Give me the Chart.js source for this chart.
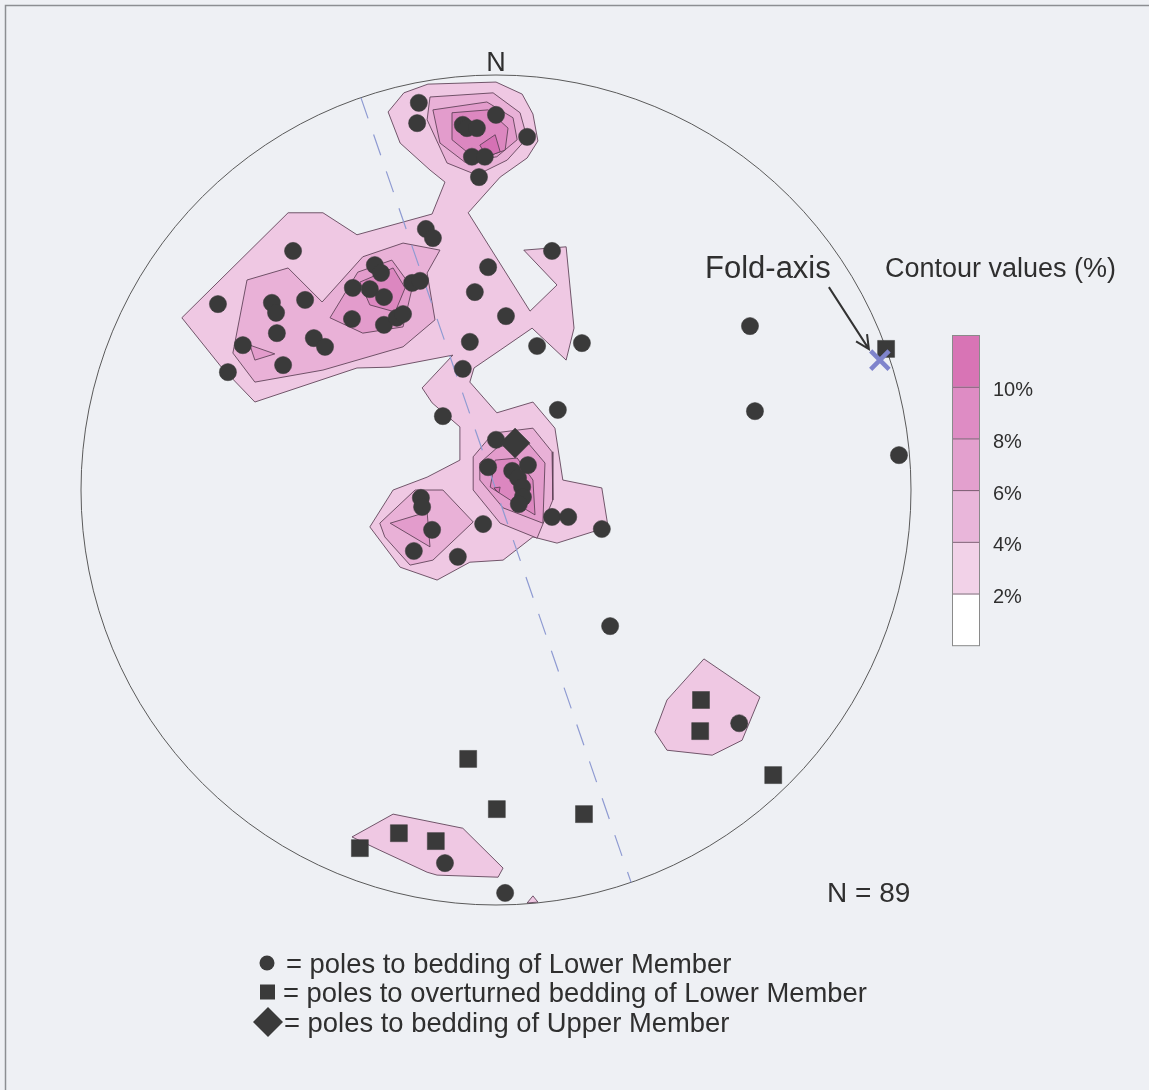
<!DOCTYPE html>
<html>
<head>
<meta charset="utf-8">
<script src="https://cdn.jsdelivr.net/npm/chart.js@4/dist/chart.umd.min.js"></script>
<style>
  html, body { margin: 0; padding: 0; background: #eef0f4; overflow: hidden; }
  canvas { display: block; }
</style>
</head>
<body>
<canvas id="net" width="1149" height="1090"></canvas>
<script>
// Equal-area net in plan view: centre (0,0), primitive circle radius 100, north up.
const NET_RADIUS = 100;
const SAMPLE_COUNT = 89;

// Poles to bedding, Lower Member (x = east, y = north)
const lowerMemberPoles = [
  [-18.6, 93.3], [-19.0, 88.4], [-8.0, 88.0], [-7.0, 87.2], [-4.6, 87.2], [0, 90.4], [7.5, 85.1],
  [-5.8, 80.3], [-2.7, 80.3], [-4.1, 75.4],
  [-48.9, 57.6], [-67.0, 44.8], [-54.0, 45.1], [-53.0, 42.7], [-46.0, 45.8], [-52.8, 37.8],
  [-61.0, 34.9], [-51.3, 30.1], [-64.6, 28.4], [-43.9, 36.6], [-41.2, 34.5],
  [-29.2, 54.2], [-27.7, 52.3], [-34.5, 48.7], [-30.4, 48.4], [-27.0, 46.5], [-34.7, 41.2],
  [-27.0, 39.8], [-23.9, 41.5], [-22.4, 42.4], [-20.2, 49.9], [-18.3, 50.4], [-16.9, 62.9], [-15.2, 60.7],
  [13.5, 57.6], [-1.9, 53.7], [-5.1, 47.7], [2.4, 41.9], [9.9, 34.7], [20.7, 35.4], [-6.3, 35.7],
  [-8.0, 29.2], [-12.8, 17.8], [14.9, 19.3],
  [0, 12.1], [-1.9, 5.5], [3.9, 4.6], [7.7, 6.0], [5.3, 2.9], [6.3, 0.7], [6.5, -1.7], [5.5, -3.4],
  [-18.1, -1.9], [-17.8, -4.1], [-15.4, -9.6], [-19.8, -14.7], [-9.2, -16.1], [-3.1, -8.2],
  [13.5, -6.5], [17.4, -6.5], [25.5, -9.4],
  [61.2, 39.5], [62.4, 19.0], [97.1, 8.4], [27.5, -32.8], [58.6, -56.2], [-12.3, -89.9], [2.2, -97.1]
];

// Poles to overturned bedding, Lower Member
const overturnedPoles = [
  [94.0, 34.0], [49.4, -50.6], [49.2, -58.1], [66.8, -68.7], [-6.7, -64.8],
  [0.2, -76.9], [21.2, -78.1], [-23.4, -82.7], [-14.5, -84.6], [-32.8, -86.3]
];

// Poles to bedding, Upper Member
const upperMemberPoles = [[4.6, 11.3]];

// Computed fold axis
const foldAxis = [[92.5, 31.3]];

// Trend of the dashed vertical plane through the centre (degrees)
const axialPlaneTrend = 341;

// Density contours (polygons), by level
const contour2Main = [
  [-22.2, 95.7], [-16.4, 97.8], [0, 98.3], [6.3, 95.4], [8.9, 90.6], [10.1, 84.1], [7.5, 80.0],
  [1.0, 75.4], [-6.7, 66.8], [8.2, 43.1], [14.7, 49.4], [6.7, 57.8], [16.9, 58.6], [18.8, 39.0],
  [16.9, 31.3], [8.7, 39.0], [1.0, 33.7], [-5.3, 29.4], [-6.3, 26.0], [0.2, 18.6], [8.9, 21.2],
  [14.2, 14.9], [16.1, 2.4], [25.5, 0.5], [27.0, -8.9], [14.7, -12.8], [8.9, -11.3], [1.7, -16.9],
  [-6.3, -17.4], [-14.2, -21.7], [-23.1, -18.6], [-30.4, -8.9], [-24.8, 0], [-16.6, 3.1],
  [-8.7, 7.2], [-8.7, 15.2], [-15.4, 21.0], [-17.8, 24.6], [-10.4, 32.5], [-25.5, 29.6],
  [-33.5, 29.4], [-58.1, 21.2], [-66.0, 29.4], [-75.7, 41.5], [-50.1, 66.8], [-41.7, 66.8],
  [-33.5, 61.5], [-15.4, 66.5], [-12.3, 74.2], [-15.9, 77.1], [-23.1, 83.6], [-26.0, 91.1]
];
const contour2SouthEast = [[50.1, -40.7], [63.6, -49.9], [59.3, -60.3], [52.1, -63.9], [41.2, -62.7], [38.3, -58.3], [41.2, -50.6]];
const contour2South = [[-34.7, -83.6], [-24.8, -78.1], [-8.0, -81.5], [1.7, -91.1], [0.5, -93.3], [-14.2, -92.8], [-16.6, -92.1], [-28.0, -86.8]];
const contour2Rim = [[7.5, -99.5], [8.9, -97.8], [10.1, -99.3]];

const contour4North = [[-15.9, 94.7], [-0.7, 95.7], [5.8, 90.9], [7.5, 84.8], [2.7, 79.5], [-4.6, 75.9], [-11.8, 78.8], [-16.6, 89.2]];
const contour4West = [[-60.0, 50.6], [-50.1, 53.5], [-41.9, 45.3], [-32.1, 56.2], [-22.4, 59.5], [-13.5, 57.8], [-16.6, 52.3], [-14.7, 41.0], [-22.4, 34.5], [-41.7, 28.9], [-58.1, 26.0], [-63.4, 33.0]];
const contour4Centre = [[-5.5, 8.0], [-0.7, 13.7], [8.9, 14.9], [13.5, 9.2], [13.7, -2.4], [9.9, -11.6], [1.0, -8.0], [-5.5, 0]];
const contour4CentreWest = [[-28.0, -8.0], [-19.5, 0], [-12.8, 0], [-5.5, -7.7], [-15.2, -16.9], [-20.7, -18.1], [-26.8, -11.3]];

const contour6North = [[-15.2, 91.6], [-2.2, 93.5], [4.1, 89.7], [5.1, 84.4], [0.2, 80.3], [-7.5, 79.0], [-13.5, 83.6]];
const contour6West = [[-40.0, 41.5], [-33.3, 52.5], [-25.1, 55.4], [-20.2, 48.7], [-22.4, 39.3], [-32.1, 37.8]];
const contour6FarWest = [[-59.3, 34.9], [-58.1, 31.3], [-53.3, 32.8]];
const contour6Centre = [[-3.9, 6.5], [0.5, 10.4], [7.5, 11.6], [11.8, 6.5], [11.3, -8.0], [1.7, -4.3], [-3.9, 2.4]];
const contour6CentreWest = [[-25.5, -8.0], [-16.6, -5.3], [-15.9, -13.7]];

const contour8North = [[-10.6, 90.9], [-1.9, 91.6], [2.9, 87.2], [2.2, 81.9], [-4.6, 79.5], [-10.6, 84.4]];
const contour8West = [[-32.8, 50.1], [-24.8, 53.5], [-21.9, 48.7], [-24.3, 42.9], [-30.4, 44.6]];
const contour8Centre = [[-0.2, 7.2], [5.1, 7.7], [8.9, 2.4], [9.4, -6.0], [3.4, -2.4], [-1.4, 0.7]];

const contour10North = [[-3.9, 83.1], [-0.2, 85.6], [1.0, 81.5], [-2.2, 80.3]];
const contour10Centre = [[-0.5, 0.5], [1.0, 0.7], [0.7, -0.7]];

// Contour key
const contourLabels = ['10%', '8%', '6%', '4%', '2%'];
const levelColors = { 2: '#efc8e3', 4: '#e9b1d7', 6: '#e39ccc', 8: '#dc87c0', 10: '#d571b4' };
const keyColors = ['#d874b5', '#de8cc4', '#e3a0ce', '#e9b6da', '#f2d2e8', '#ffffff'];

const contourSets = [
  [2, [contour2Main, contour2SouthEast, contour2South, contour2Rim]],
  [4, [contour4North, contour4West, contour4Centre, contour4CentreWest]],
  [6, [contour6North, contour6West, contour6FarWest, contour6Centre, contour6CentreWest]],
  [8, [contour8North, contour8West, contour8Centre]],
  [10, [contour10North, contour10Centre]]
];

const toXY = arr => arr.map(([x, y]) => ({ x, y }));
const closed = arr => toXY(arr.concat([arr[0]]));

const datasets = [];
contourSets.forEach(([level, polys]) => {
  polys.forEach(poly => {
    datasets.push({
      label: 'contour ' + level + '%',
      data: closed(poly),
      showLine: true,
      fill: 'shape',
      backgroundColor: levelColors[level],
      borderColor: 'rgba(90,62,84,0.85)',
      borderWidth: 1,
      pointRadius: 0,
      tension: 0,
      order: 40 - level
    });
  });
});

const t = axialPlaneTrend * Math.PI / 180;
datasets.push({
  label: 'plane',
  data: [
    { x: NET_RADIUS * Math.sin(t), y: NET_RADIUS * Math.cos(t) },
    { x: -NET_RADIUS * Math.sin(t), y: -NET_RADIUS * Math.cos(t) }
  ],
  showLine: true,
  fill: false,
  borderColor: '#8f9bd2',
  borderWidth: 1.2,
  borderDash: [22, 17],
  pointRadius: 0,
  order: 10
});

const markColor = '#3a3a3a';
datasets.push({
  label: 'poles to bedding of Lower Member',
  data: toXY(lowerMemberPoles),
  pointStyle: 'circle', pointRadius: 8.6,
  backgroundColor: markColor, borderColor: markColor, borderWidth: 0.5,
  order: 3
});
datasets.push({
  label: 'poles to overturned bedding of Lower Member',
  data: toXY(overturnedPoles),
  pointStyle: 'rect', pointRadius: 12,
  backgroundColor: markColor, borderColor: markColor, borderWidth: 0.5,
  order: 2
});
datasets.push({
  label: 'poles to bedding of Upper Member',
  data: toXY(upperMemberPoles),
  pointStyle: 'rectRot', pointRadius: 15,
  backgroundColor: markColor, borderColor: markColor, borderWidth: 0.5,
  order: 1
});
datasets.push({
  label: 'Fold-axis',
  data: toXY(foldAxis),
  pointStyle: 'crossRot', pointRadius: 13,
  backgroundColor: '#7f84cc', borderColor: '#7f84cc', borderWidth: 4.5,
  order: 0
});

const FONT = '"Liberation Sans", Arial, Helvetica, sans-serif';
const TEXT = '#2f2f2f';

const stereonetDecor = {
  id: 'stereonetDecor',
  beforeDraw(chart) {
    const ctx = chart.ctx;
    ctx.save();
    ctx.fillStyle = '#eef0f4';
    ctx.fillRect(0, 0, chart.width, chart.height);
    ctx.strokeStyle = '#8c8e92';
    ctx.lineWidth = 1.5;
    ctx.beginPath();
    ctx.moveTo(5.5, chart.height);
    ctx.lineTo(5.5, 5.5);
    ctx.lineTo(chart.width, 5.5);
    ctx.stroke();
    ctx.restore();
  },
  beforeDatasetsDraw(chart) {
    const { ctx, scales: { x, y } } = chart;
    const cx = x.getPixelForValue(0), cy = y.getPixelForValue(0);
    const r = x.getPixelForValue(NET_RADIUS) - cx;
    ctx.save();
    ctx.strokeStyle = '#5a5a5a';
    ctx.lineWidth = 1;
    ctx.beginPath();
    ctx.arc(cx, cy, r, 0, Math.PI * 2);
    ctx.stroke();
    ctx.restore();
  },
  afterDatasetsDraw(chart) {
    const { ctx, scales: { x, y } } = chart;
    const cx = x.getPixelForValue(0), cy = y.getPixelForValue(0);
    const r = x.getPixelForValue(NET_RADIUS) - cx;
    ctx.save();
    ctx.fillStyle = TEXT;
    ctx.textBaseline = 'alphabetic';

    // North mark
    ctx.font = '27px ' + FONT;
    ctx.textAlign = 'center';
    ctx.fillText('N', cx, cy - r - 4);

    // Sample count
    ctx.textAlign = 'left';
    ctx.font = '28px ' + FONT;
    ctx.fillText('N = ' + SAMPLE_COUNT, 827, 902);

    // Fold-axis label and arrow
    const fx = x.getPixelForValue(foldAxis[0][0]);
    const fy = y.getPixelForValue(foldAxis[0][1]);
    ctx.font = '31px ' + FONT;
    ctx.fillText('Fold-axis', 705, 278);
    ctx.strokeStyle = '#333';
    ctx.lineWidth = 2;
    const ax0 = fx - 51, ay0 = fy - 73, ax1 = fx - 11, ay1 = fy - 11;
    ctx.beginPath();
    ctx.moveTo(ax0, ay0);
    ctx.lineTo(ax1, ay1);
    const ang = Math.atan2(ay1 - ay0, ax1 - ax0);
    const hl = 15, spread = 0.45;
    ctx.moveTo(ax1 - hl * Math.cos(ang - spread), ay1 - hl * Math.sin(ang - spread));
    ctx.lineTo(ax1, ay1);
    ctx.lineTo(ax1 - hl * Math.cos(ang + spread), ay1 - hl * Math.sin(ang + spread));
    ctx.stroke();

    // Contour key
    ctx.font = '27px ' + FONT;
    ctx.fillText('Contour values (%)', 885, 277);
    const kx = 952, ky = 335, kw = 27, kh = 51.7;
    keyColors.forEach((c, i) => {
      ctx.fillStyle = c;
      ctx.fillRect(kx, ky + i * kh, kw, kh);
    });
    ctx.strokeStyle = '#7a5a70';
    ctx.lineWidth = 1;
    for (let i = 1; i < keyColors.length; i++) {
      ctx.beginPath();
      ctx.moveTo(kx, ky + i * kh + 0.5);
      ctx.lineTo(kx + kw, ky + i * kh + 0.5);
      ctx.stroke();
    }
    ctx.strokeStyle = '#8a8a8a';
    ctx.strokeRect(kx + 0.5, ky + 0.5, kw, keyColors.length * kh);
    ctx.fillStyle = TEXT;
    ctx.font = '20px ' + FONT;
    ctx.textBaseline = 'middle';
    contourLabels.forEach((lab, i) => {
      ctx.fillText(lab, 993, ky + (i + 1) * kh + 4);
    });

    // Symbol legend
    ctx.textBaseline = 'alphabetic';
    ctx.font = '27.4px ' + FONT;
    const rows = [
      ['circle', 963, '= poles to bedding of Lower Member', 286],
      ['square', 992, '= poles to overturned bedding of Lower Member', 283],
      ['diamond', 1022, '= poles to bedding of Upper Member', 284]
    ];
    rows.forEach(([shape, yy, label, tx]) => {
      ctx.fillStyle = markColor;
      ctx.beginPath();
      if (shape === 'circle') {
        ctx.arc(267, yy, 7.5, 0, Math.PI * 2);
      } else if (shape === 'square') {
        ctx.rect(260, yy - 7.5, 15, 15);
      } else {
        ctx.moveTo(268, yy - 15);
        ctx.lineTo(283, yy);
        ctx.lineTo(268, yy + 15);
        ctx.lineTo(253, yy);
        ctx.closePath();
      }
      ctx.fill();
      ctx.fillStyle = TEXT;
      ctx.fillText(label, tx, yy + 9.5);
    });
    ctx.restore();
  }
};

const W = 1149, H = 1090;
const CX = 496, CY = 490, RPX = 415;
const unit = NET_RADIUS / RPX;

new Chart(document.getElementById('net'), {
  type: 'scatter',
  data: { datasets },
  options: {
    responsive: false,
    animation: false,
    devicePixelRatio: 1,
    layout: { padding: 0, autoPadding: false },
    events: [],
    scales: {
      x: { type: 'linear', display: false, min: -CX * unit, max: (W - CX) * unit },
      y: { type: 'linear', display: false, min: -(H - CY) * unit, max: CY * unit }
    },
    plugins: {
      legend: { display: false },
      tooltip: { enabled: false }
    }
  },
  plugins: [stereonetDecor]
});
</script>
</body>
</html>
